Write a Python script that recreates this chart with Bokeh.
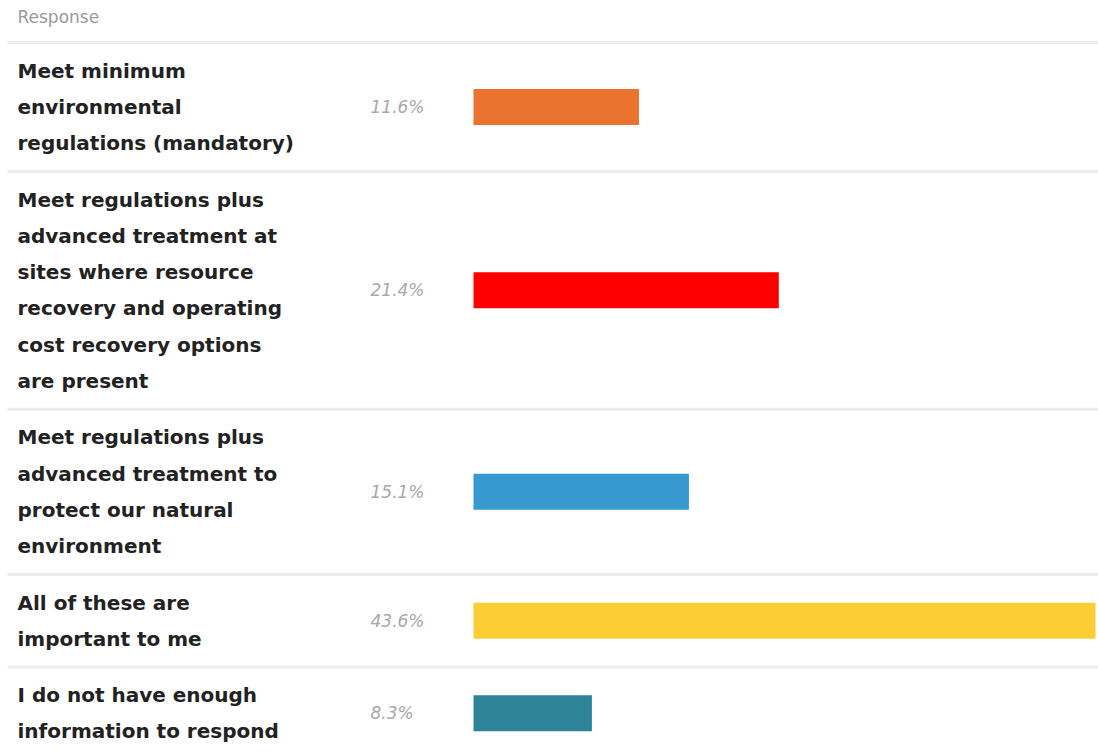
from bokeh.plotting import figure
from bokeh.models import Range1d, ColumnDataSource
from bokeh.core.properties import value
from bokeh.embed import file_html
from bokeh.resources import INLINE

# ---- data ----
header = "Response"
categories = [
    "Meet minimum\nenvironmental\nregulations (mandatory)",
    "Meet regulations plus\nadvanced treatment at\nsites where resource\nrecovery and operating\ncost recovery options\nare present",
    "Meet regulations plus\nadvanced treatment to\nprotect our natural\nenvironment",
    "All of these are\nimportant to me",
    "I do not have enough\ninformation to respond",
]
percents = [11.6, 21.4, 15.1, 43.6, 8.3]
colors = ["#ea7330", "#ff0000", "#3799cf", "#fccd34", "#2e8399"]

# ---- layout (pixel coordinates of the picture) ----
W, H = 1098, 753
PX0 = 0
HEADER_BOTTOM = 42
LINE_H = 36.3
ROW_PAD = 20
BAR_H = 36
BAR_X0 = 473            # picture x of 0 %
BAR_X_MAX = 1095        # picture x of the largest value
LABEL_X = 17
PCT_X = 370

px_per_pct = (BAR_X_MAX - BAR_X0) / max(percents)
x_start = -(BAR_X0 - PX0) / px_per_pct
x_end = x_start + W / px_per_pct

p = figure(width=W, height=H, output_backend="svg", toolbar_location=None,
           x_range=Range1d(x_start, x_end), y_range=Range1d(PX0 + H, PX0),
           min_border=0, outline_line_color=None, background_fill_color="white",
           border_fill_color="white")
p.extra_x_ranges = {"px": Range1d(PX0, PX0 + W)}
p.xaxis.visible = False
p.yaxis.visible = False
p.grid.visible = False

# rows
row_centers, sep_y = [], [HEADER_BOTTOM]
line_x, line_y, line_t = [], [], []
top = HEADER_BOTTOM
for cat in categories:
    lines = cat.split("\n")
    h = len(lines) * LINE_H + ROW_PAD
    c = top + h / 2
    row_centers.append(c)
    for i, ln in enumerate(lines):
        line_x.append(LABEL_X)
        line_y.append(c + (i - (len(lines) - 1) / 2) * LINE_H)
        line_t.append(ln)
    top += h
    sep_y.append(top)
sep_y = sep_y[:-1]

# separators
p.segment(x0=[7] * len(sep_y), x1=[PX0 + W] * len(sep_y), y0=sep_y, y1=sep_y,
          x_range_name="px", line_color="#ececec", line_width=3)

# header
p.text(x=[LABEL_X], y=[16], text=[header], x_range_name="px",
       text_font=value("DejaVu Sans"), text_font_size="17px", text_color="#9a9a9a",
       text_baseline="middle", text_align="left")

# category labels
p.text(x=line_x, y=line_y, text=line_t, x_range_name="px",
       text_font=value("DejaVu Sans"), text_font_style="bold", text_font_size="20px",
       text_color="#222222", text_baseline="middle", text_align="left")

# percent labels
p.text(x=[PCT_X] * len(percents), y=row_centers, text=[f"{v:.1f}%" for v in percents],
       x_range_name="px", text_font=value("DejaVu Sans"), text_font_style="italic",
       text_font_size="17px", text_color="#a8a8a8", text_baseline="middle",
       text_align="left")

# bars
src = ColumnDataSource(dict(y=row_centers, right=percents, color=colors))
p.hbar(y="y", left=0, right="right", height=BAR_H, fill_color="color",
       line_color=None, source=src)

open("out.html", "w").write(file_html(p, INLINE))
